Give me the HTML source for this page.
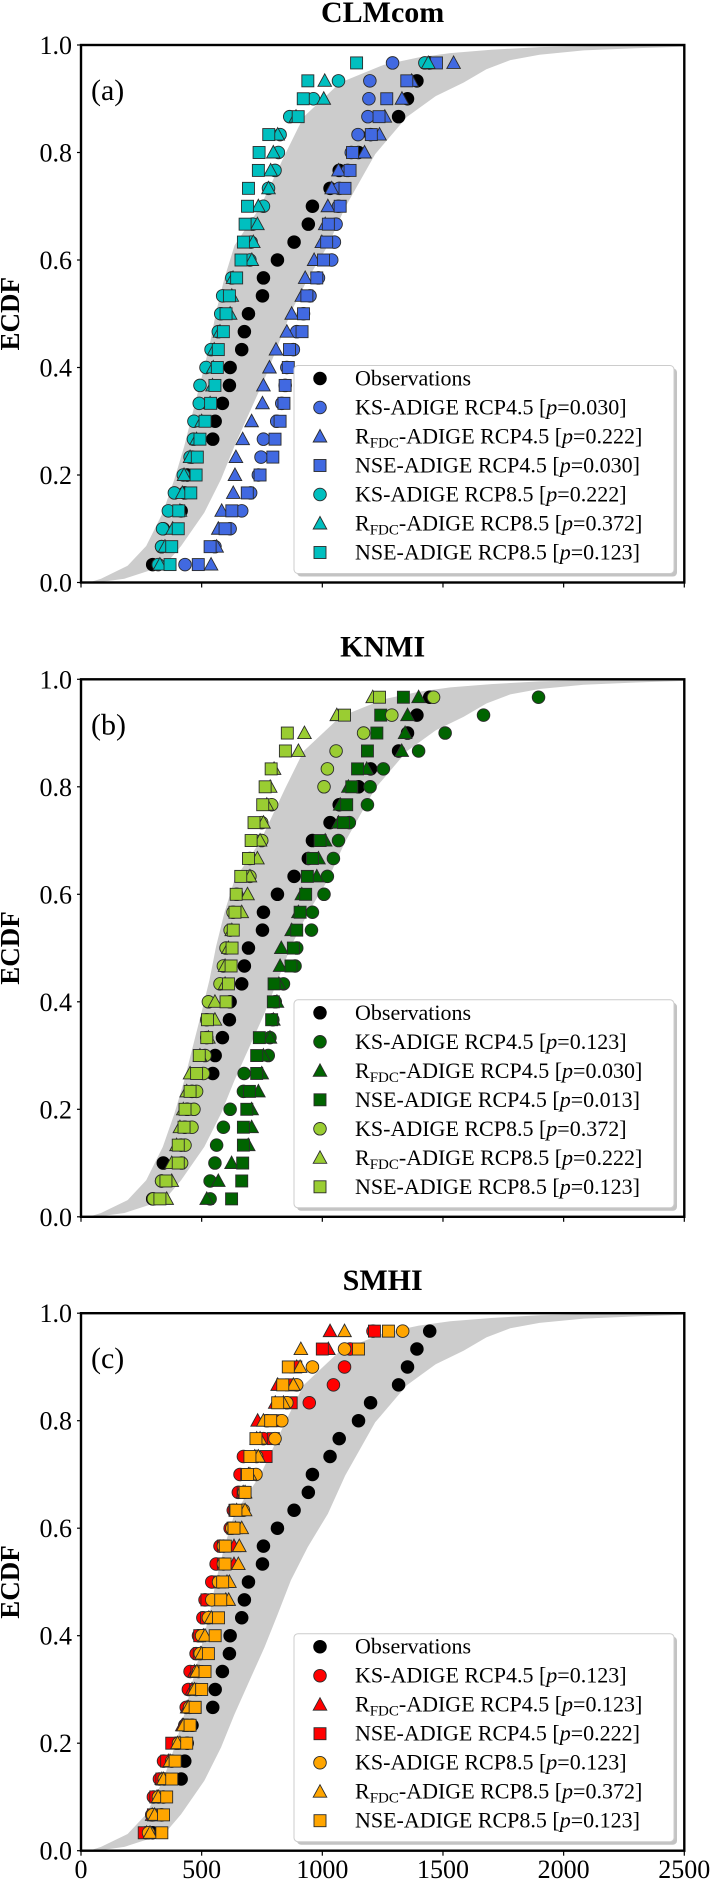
<!DOCTYPE html>
<html><head><meta charset="utf-8">
<style>
html,body{margin:0;padding:0;background:#fff;}
svg{display:block;font-family:"Liberation Serif",serif;}
</style></head>
<body>
<svg id="fig" width="713" height="1880" viewBox="0 0 713 1880" xmlns="http://www.w3.org/2000/svg"></svg>
<script>
// ---------- data ----------
const panelTitles = ["CLMcom", "KNMI", "SMHI"];
const panelLetters = ["(a)", "(b)", "(c)"];
const yTickLabels = ["0.0", "0.2", "0.4", "0.6", "0.8", "1.0"];
const xTickValues = [0, 500, 1000, 1500, 2000, 2500];
const xTickLabels = ["0", "500", "1000", "1500", "2000", "2500"];
const seriesNames = ["KS-ADIGE RCP4.5", "R|FDC|-ADIGE RCP4.5", "NSE-ADIGE RCP4.5", "KS-ADIGE RCP8.5", "R|FDC|-ADIGE RCP8.5", "NSE-ADIGE RCP8.5"];
const pValuesA = ["0.030", "0.222", "0.030", "0.222", "0.372", "0.123"];
const pValuesB = ["0.123", "0.030", "0.013", "0.372", "0.222", "0.123"];
const pValuesC = ["0.123", "0.123", "0.222", "0.123", "0.372", "0.123"];

const observations = [297,334,341,415,430,440,460,546,556,586,615,618,666,677,694,752,756,814,883,942,959,1032,1070,1150,1200,1316,1353,1392,1445];

const a_ks45  = [431,555,618,666,703,735,746,756,811,832,846,853,880,894,922,949,984,1039,1050,1057,1067,1070,1105,1120,1148,1189,1193,1197,1291];
const a_rf45  = [539,562,569,583,631,638,642,670,707,752,756,781,808,853,873,915,929,966,998,1012,1023,1039,1067,1175,1237,1259,1330,1370,1544];
const a_nse45 = [486,535,597,625,689,742,795,804,825,841,846,859,864,916,922,936,977,1005,1018,1025,1074,1094,1115,1125,1203,1235,1267,1350,1473];
const a_ks85  = [320,334,338,362,387,424,452,466,468,490,493,518,539,569,579,587,625,700,705,712,756,777,804,818,825,865,963,1067,1425];
const a_rf85  = [327,348,380,410,420,427,452,479,500,535,545,548,552,576,618,625,630,708,714,731,735,777,786,797,815,891,1006,1010,1439];
const a_nse85 = [369,376,403,405,455,477,482,493,514,537,555,565,569,590,601,615,645,663,673,680,690,694,735,738,778,900,921,940,1142];

const b_ks45  = [535,535,555,562,590,618,673,676,776,783,795,805,839,887,894,955,959,1007,1021,1046,1067,1112,1187,1198,1253,1399,1509,1668,1896];
const b_rf45  = [521,569,624,693,707,707,735,749,756,783,797,812,820,825,830,873,901,915,977,984,1012,1067,1074,1108,1184,1329,1343,1353,1399];
const b_nse45 = [624,666,670,673,673,687,698,728,728,739,790,797,800,870,880,894,908,931,938,959,991,1088,1101,1122,1146,1187,1226,1242,1336];
const b_ks85  = [300,334,417,431,460,468,479,507,514,521,521,528,576,590,601,618,630,645,700,700,749,749,790,1007,1021,1057,1171,1288,1461];
const b_rf85  = [355,376,376,396,410,424,438,452,493,528,555,555,597,597,611,625,666,690,700,731,742,756,770,784,800,901,926,1060,1209];
const b_nse85 = [327,352,403,403,427,431,452,479,490,521,524,601,611,622,626,631,638,643,662,694,705,717,753,763,788,847,855,1092,1237];

const c_ks45  = [270,293,300,325,342,395,430,436,445,452,477,487,505,514,542,560,576,618,631,652,659,673,756,770,946,1046,1092,1115,1210];
const c_rf45  = [272,295,315,335,362,410,420,440,460,470,495,507,530,600,605,634,634,640,645,672,694,720,728,732,805,815,894,1025,1032];
const c_nse45 = [262,300,310,335,355,376,445,473,475,480,490,492,520,522,575,590,590,630,638,672,687,767,797,800,871,872,890,1000,1216];
const c_ks85  = [280,297,321,345,376,404,440,450,477,487,494,500,528,542,570,590,590,625,673,675,725,728,804,832,853,894,959,1092,1333];
const c_rf85  = [286,305,320,342,369,400,425,445,470,480,500,514,540,612,615,652,656,666,680,680,700,735,742,756,839,880,908,911,1092];
const c_nse85 = [335,342,355,376,390,438,452,473,500,514,528,556,570,579,587,597,598,634,642,680,690,700,725,786,815,836,859,1150,1274];

// band boundaries (value, cdf)
const bandLeftX  = [0,40,83,193,270,339,387,428,463,498,532,560,594,636,700,742,846,922,1074,1254,1400,1530,1700,1900,2200,2500];
const bandLeftY  = [0,0.001,0.007,0.031,0.068,0.13,0.192,0.254,0.316,0.378,0.44,0.503,0.565,0.627,0.67,0.698,0.797,0.866,0.93,0.963,0.977,0.985,0.991,0.996,0.999,1];
const bandRightX = [0,80,180,345,415,511,580,636,698,760,815,870,940,1023,1095,1219,1350,1470,1585,1680,1779,1900,2083,2300,2500];
const bandRightY = [0,0.001,0.007,0.031,0.068,0.13,0.192,0.254,0.316,0.378,0.44,0.503,0.565,0.627,0.698,0.797,0.866,0.905,0.93,0.955,0.972,0.982,0.99,0.994,0.997];

// ---------- layout ----------
const NS = "http://www.w3.org/2000/svg";
const svg = document.getElementById("fig");
const X0 = 81, X1 = 684.3, XMAX = 2500;
const bottoms = [582.5, 1216.8, 1850.7];
const PH = 537.5;
const panelsData = [
  [a_ks45,a_rf45,a_nse45,a_ks85,a_rf85,a_nse85],
  [b_ks45,b_rf45,b_nse45,b_ks85,b_rf85,b_nse85],
  [c_ks45,c_rf45,c_nse45,c_ks85,c_rf85,c_nse85]
];
const panelP = [pValuesA, pValuesB, pValuesC];
const panelColors = [
  ["#4169E1","#4169E1","#4169E1","#00BFBF","#00BFBF","#00BFBF"],
  ["#006400","#006400","#006400","#9ACD32","#9ACD32","#9ACD32"],
  ["#FF0000","#FF0000","#FF0000","#FFA500","#FFA500","#FFA500"]
];
const shapes = ["circle","triangle","square","circle","triangle","square"];

function xs(v){ return X0 + v/XMAX*(X1-X0); }
function ys(p, c){ return bottoms[p] - c*PH; }
function mk(tag, attrs, parent){
  const e = document.createElementNS(NS, tag);
  for (const k in attrs) e.setAttribute(k, attrs[k]);
  (parent||svg).appendChild(e);
  return e;
}
function marker(g, shape, cx, cy, fill, stroke){
  let e;
  if (shape === "circle") e = mk("circle",{cx:cx,cy:cy,r:6.3,fill:fill,stroke:stroke,"stroke-width":0.9},g);
  else if (shape === "square") e = mk("rect",{x:cx-6,y:cy-6,width:12,height:12,fill:fill,stroke:stroke,"stroke-width":0.9},g);
  else e = mk("polygon",{points:(cx)+","+(cy-7)+" "+(cx+6.8)+","+(cy+5.5)+" "+(cx-6.8)+","+(cy+5.5),fill:fill,stroke:stroke,"stroke-width":0.9},g);
  return e;
}
function labelText(parent, x, y, name, p){
  const t = mk("text",{x:x,y:y,"font-size":22,fill:"#000"},parent);
  const parts = name.split("|");
  if (parts.length === 3){
    const a = mk("tspan",{},t); a.textContent = parts[0];
    const s = mk("tspan",{"font-size":15,dy:4},t); s.textContent = parts[1];
    const b = mk("tspan",{dy:-4},t); b.textContent = parts[2] + " [";
  } else {
    const a = mk("tspan",{},t); a.textContent = name + " [";
  }
  const it = mk("tspan",{"font-style":"italic"},t); it.textContent = "p";
  const r = mk("tspan",{},t); r.textContent = "=" + p + "]";
  return t;
}

for (let p = 0; p < 3; p++){
  const top = bottoms[p] - PH;
  const g = mk("g",{});
  
  

  const title = mk("text",{x:(X0+X1)/2,y:top-23,"text-anchor":"middle","font-size":30,"font-weight":"bold"},g);
  
  
  title.textContent = panelTitles[p];

  let d = "";
  for (let i=0;i<bandLeftX.length;i++) d += (i?"L":"M") + xs(bandLeftX[i]).toFixed(1) + "," + ys(p,bandLeftY[i]).toFixed(1);
  for (let i=bandRightX.length-1;i>=0;i--) d += "L" + xs(bandRightX[i]).toFixed(1) + "," + ys(p,bandRightY[i]).toFixed(1);
  d += "Z";
  const band = mk("path",{d:d,fill:"#cccccc",stroke:"none"},g);
  
  

  const n = observations.length;
  const og = mk("g",{},g);
  
  
  for (let i=0;i<n;i++){
    const m = marker(og,"circle",xs(observations[i]),ys(p,(i+1)/(n+1)),"#000","#000");
    
    
  }
  for (let s=0;s<6;s++){
    const arr = panelsData[p][s];
    const sg = mk("g",{},g);
    
    
    for (let i=0;i<arr.length;i++){
      const m = marker(sg,shapes[s],xs(arr[i]),ys(p,(i+1)/(arr.length+1)),panelColors[p][s],"#2b2b2b");
      
      
    }
  }

  const frame = mk("rect",{x:X0,y:top,width:X1-X0,height:PH,fill:"none",stroke:"#000","stroke-width":2.4},g);
  
  

  for (let k=0;k<yTickLabels.length;k++){
    const yy = ys(p, k*0.2);
    mk("line",{x1:X0-4,x2:X0,y1:yy,y2:yy,stroke:"#000","stroke-width":1.2},g);
    const t = mk("text",{x:72,y:yy+9,"text-anchor":"end","font-size":26},g);
    
    
    t.textContent = yTickLabels[k];
  }
  for (let k=0;k<xTickValues.length;k++){
    const xx = xs(xTickValues[k]);
    mk("line",{x1:xx,x2:xx,y1:bottoms[p],y2:bottoms[p]+5,stroke:"#000","stroke-width":1.2},g);
    if (p === 2){
      const t = mk("text",{x:xx,y:1878,"text-anchor":"middle","font-size":26},g);
      
      
      t.textContent = xTickLabels[k];
    }
  }
  const cy = (top + bottoms[p]) / 2;
  const yt = mk("text",{x:0,y:0,"text-anchor":"middle","font-size":27,"font-weight":"bold",transform:"translate(19,"+cy+") rotate(-90)"},g);
  
  
  yt.textContent = "ECDF";

  const pl = mk("text",{x:91,y:top+55,"font-size":30},g);
  
  
  pl.textContent = panelLetters[p];

  const lg = mk("g",{},g);
  
  
  const ltop = bottoms[p] - 217;
  mk("rect",{x:297,y:ltop+3,width:380,height:208,rx:4,fill:"#888",opacity:0.5},lg);
  mk("rect",{x:294,y:ltop,width:380,height:208,rx:4,fill:"#fff",stroke:"#cccccc","stroke-width":1},lg);
  const ey0 = ltop + 13;
  const e0 = mk("g",{},lg);
  
  
  marker(e0,"circle",320,ey0,"#000","#000");
  const t0 = mk("text",{x:355,y:ey0+7,"font-size":22},e0);
  t0.textContent = "Observations";
  for (let s=0;s<6;s++){
    const ey = ey0 + 29*(s+1);
    const e = mk("g",{},lg);
    
    
    marker(e,shapes[s],320,ey,panelColors[p][s],"#2b2b2b");
    labelText(e,355,ey+7,seriesNames[s],panelP[p][s]);
  }
}
</script>
</body></html>
